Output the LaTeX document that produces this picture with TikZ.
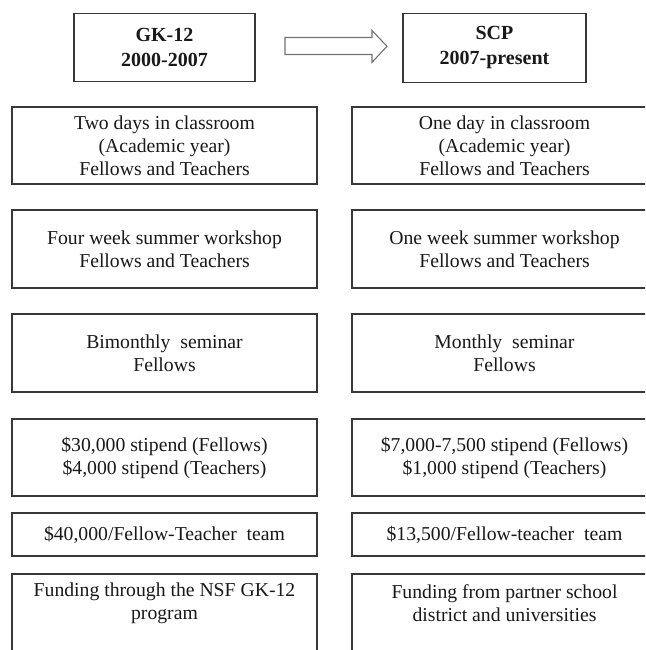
\documentclass[tikz,border=0pt]{standalone}
\usepackage{fontspec}
\setmainfont{Liberation Serif}
\begin{document}
\begin{tikzpicture}[x=1pt,y=-1pt,
  box/.style={draw=black!78, line width=1.1pt, minimum width=305pt, inner sep=0pt,
    align=center, font=\fontsize{19.7}{23}\selectfont, text=black!90},
  txt/.style={inner sep=0pt, align=center, font=\fontsize{19.7}{23}\selectfont, text=black!90},
  head/.style={draw=black!78, line width=1.1pt, minimum width=181pt, minimum height=68pt,
    inner sep=0pt, align=center, font=\bfseries\fontsize{20}{25}\selectfont, text=black!90},
  blockarrow/.style={draw=black!55, line width=1.1pt, fill=white}]
\clip (0,0) rectangle (645,650);
\fill[white] (0,0) rectangle (645,650);
% headers
\node[head] (gk) at (164.5,47.5) {GK-12\\2000-2007};
\node[head, minimum width=183pt, minimum height=69pt] (scp) at (494.5,48) {SCP\\2007-present};
% block arrow
\draw[blockarrow] (285,37.5) -- (372,37.5) -- (372,30.5) -- (387,46.3) -- (372,62.3) -- (372,54.5) -- (285,54.5) -- cycle;
% rows left
\node[box, minimum height=77pt] (l1) at (164.5,145.5) {Two days in classroom\\(Academic year)\\Fellows and Teachers};
\node[box, minimum height=78pt] (l2) at (164.5,249) {Four week summer workshop\\Fellows and Teachers};
\node[box, minimum height=78pt] (l3) at (164.5,353) {Bimonthly\ \ seminar\\Fellows};
\node[box, minimum height=77pt] (l4) at (164.5,457.5) {\$30,000 stipend (Fellows)\\\$4,000 stipend (Teachers)};
\node[box, minimum height=43pt] (l5) at (164.5,534.5) {\$40,000/Fellow-Teacher\ \ team};
\node[box, minimum height=80pt] (l6) at (164.5,614) {};
\node[txt] (l6t) at (164.5,603.5) {Funding through the NSF GK-12\\program};
% rows right
\node[box, minimum height=77pt] (r1) at (504.5,145.5) {One day in classroom\\(Academic year)\\Fellows and Teachers};
\node[box, minimum height=78pt] (r2) at (504.5,249) {One week summer workshop\\Fellows and Teachers};
\node[box, minimum height=78pt] (r3) at (504.5,353) {Monthly\ \ seminar\\Fellows};
\node[box, minimum height=77pt] (r4) at (504.5,457.5) {\$7,000-7,500 stipend (Fellows)\\\$1,000 stipend (Teachers)};
\node[box, minimum height=43pt] (r5) at (504.5,534.5) {\$13,500/Fellow-teacher\ \ team};
\node[box, minimum height=80pt] (r6) at (504.5,614) {};
\node[txt] (r6t) at (504.5,603.5) {Funding from partner school\\district and universities};
\end{tikzpicture}
\end{document}
